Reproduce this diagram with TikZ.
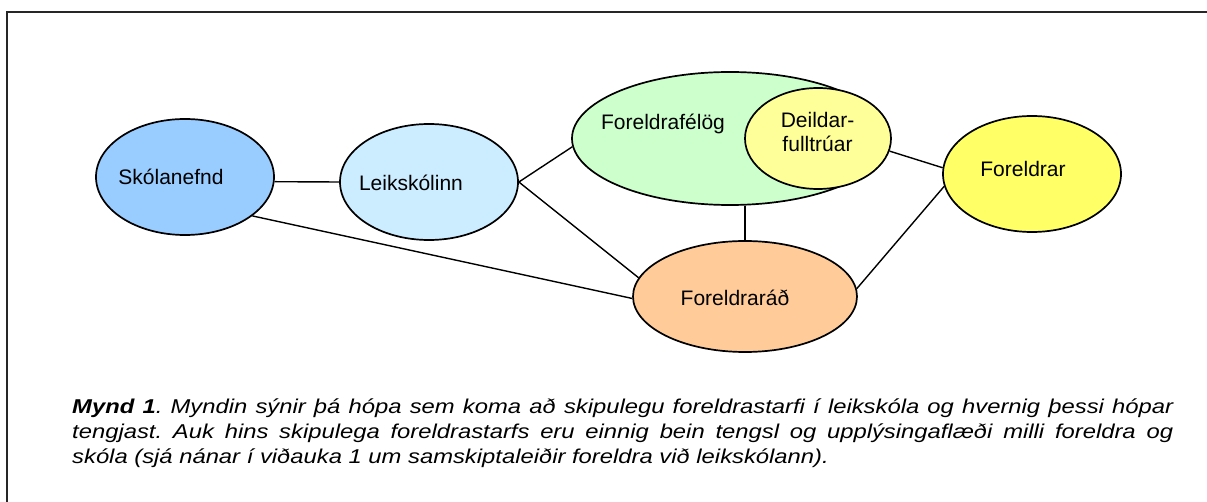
\documentclass[tikz,border=0pt]{standalone}
\usepackage{fontspec}
\setmainfont{Liberation Sans}
\newfontfamily\capfont[FakeStretch=1.19]{Liberation Sans}
\usetikzlibrary{shapes.geometric}
\definecolor{cSk}{HTML}{99CCFF}
\definecolor{cLk}{HTML}{CCECFF}
\definecolor{cGr}{HTML}{CCFFCC}
\definecolor{cDl}{HTML}{FFFF99}
\definecolor{cFo}{HTML}{FFFF66}
\definecolor{cFr}{HTML}{FFCC99}
\frenchspacing
\tikzset{
  oval/.style={ellipse, draw=black, line width=1.7pt, inner sep=0pt},
  lbl/.style={anchor=base, inner sep=0pt, font=\fontsize{21}{24}\selectfont},
  capline/.style={anchor=base west, inner sep=0pt, font=\capfont\fontsize{20}{25}\selectfont\itshape},
  link/.style={draw=black, line width=1.4pt},
  frame/.style={draw=black!85, line width=2pt}
}
\begin{document}
\begin{tikzpicture}[x=1pt, y=-1pt]
\useasboundingbox (0,0) rectangle (1207,502);
\fill[white] (0,0) rectangle (1207,502);
\draw[frame] (7,502) -- (7,12) -- (1207,12);

% ellipses
\node[oval, fill=cSk, minimum width=178pt, minimum height=116pt] (sk) at (185,177) {};
\node[oval, fill=cLk, minimum width=178pt, minimum height=116pt] (lk) at (429,182) {};
\node[oval, fill=cGr, minimum width=316pt, minimum height=133pt] (gr) at (730,138.5) {};
\node[oval, fill=cDl, minimum width=146pt, minimum height=101pt] (dl) at (818,138.5) {};
\node[oval, fill=cFo, minimum width=178pt, minimum height=116pt] (fo) at (1032,174) {};
\node[oval, fill=cFr, minimum width=224pt, minimum height=111pt] (fr) at (745,296.5) {};

% connectors
\draw[link] (sk.-3.3) -- (lk.west);
\draw[link] (sk.-30.5) -- (fr.181);
\draw[link] (lk.east) -- (gr.183);
\draw[link] (lk.east) -- (fr.170);
\draw[link] (gr.south -| fr.north) -- (fr.north);
\draw[link] (dl.-10) -- (fo.176);
\draw[link] (fo.188) -- (fr.4);

% labels
\node[lbl] (tsk) at (171,185) {Skólanefnd};
\node[lbl] (tlk) at (411,191) {Leikskólinn};
\node[lbl] (tgr) at (663,130) {Foreldrafélög};
\node[lbl] (tdl1) at (817.5,128) {Deildar-};
\node[lbl] (tdl2) at (817.5,152) {fulltrúar};
\node[lbl] (tfo) at (1023,177) {Foreldrar};
\node[lbl] (tfr) at (735,306) {Foreldraráð};

% caption
\node[capline] (c1) at (72,413) {\makebox[1101pt][s]{\bfseries Mynd 1\mdseries. Myndin sýnir þá hópa sem koma að skipulegu foreldrastarfi í leikskóla og hvernig þessi hópar}};
\node[capline] (c2) at (72,438) {\makebox[1101pt][s]{tengjast. Auk hins skipulega foreldrastarfs eru einnig bein tengsl og upplýsingaflæði milli foreldra og}};
\node[capline] (c3) at (72,463) {skóla (sjá nánar í viðauka 1 um samskiptaleiðir foreldra við leikskólann).};
\end{tikzpicture}
\end{document}
